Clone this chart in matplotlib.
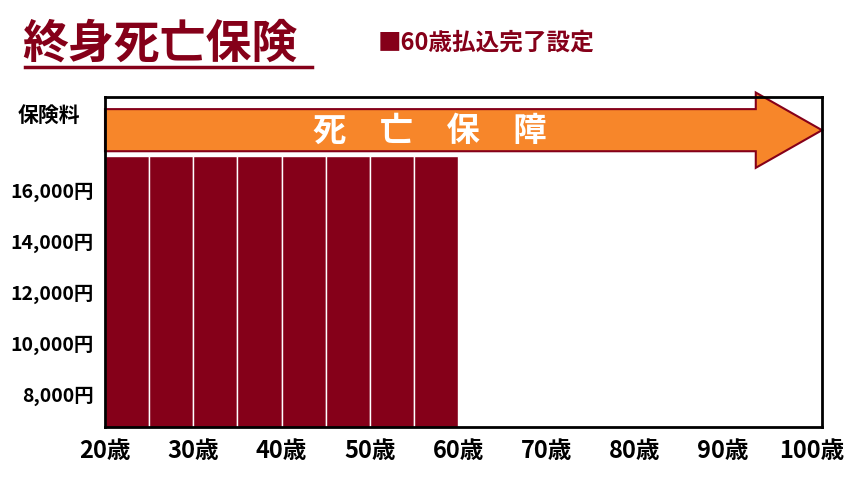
import matplotlib.pyplot as plt
from matplotlib.patches import FancyArrow

plt.rcParams['font.family'] = ['Noto Sans CJK JP', 'DejaVu Sans']

# 5-year premium bars, 20 to 60 years old
bar_starts = [20, 25, 30, 35, 40, 45, 50, 55]
premiums = [17300] * 8
x_ticks = [20, 30, 40, 50, 60, 70, 80, 90, 100]
x_labels = [f"{a}歳" for a in x_ticks]
y_ticks = [8000, 10000, 12000, 14000, 16000]
y_labels = [f"{v:,}円" for v in y_ticks]

DARK = "#850019"
ORANGE = "#F7862A"

fig = plt.figure(figsize=(8.57, 4.81), dpi=100)
ax = fig.add_axes([105/857, 1-428/481, 717/857, 330/481])
ax.bar(bar_starts, premiums, width=5, align="edge", color=DARK,
       edgecolor="white", linewidth=1)
ax.set_xlim(20, 101.2)
ax.set_ylim(6670, 19600)
ax.set_xticks(x_ticks)
ax.set_xticklabels(x_labels, fontsize=17, fontweight="bold")
ax.set_yticks(y_ticks)
ax.set_yticklabels(y_labels, fontsize=14, fontweight="bold")
ax.tick_params(length=0, pad=8)
for s in ax.spines.values():
    s.set_linewidth(2)
    s.set_color("black")

arr = FancyArrow(20, 18300, 81.2, 0, width=1650, head_width=2950,
                 head_length=7.5, length_includes_head=True,
                 facecolor=ORANGE, edgecolor=DARK, linewidth=1.5,
                 clip_on=False)
ax.add_patch(arr)
ax.text(56.8, 18300, "死　亡　保　障", color="white", fontsize=24,
        fontweight="bold", ha="center", va="center")

fig.text(18/857, 1-115/481, "保険料", fontsize=15, fontweight="bold",
         va="center")
fig.text(22/857, 1-45/481, "終身死亡保険", fontsize=33, fontweight="bold",
         color=DARK, va="center")
fig.add_artist(plt.Line2D([25/857, 312/857], [1-68/481, 1-68/481],
                          color=DARK, lw=2.5))
fig.text(378/857, 1-43/481, "■60歳払込完了設定", fontsize=17,
         fontweight="bold", color=DARK, va="center")

fig.savefig("out.png", dpi=100)
